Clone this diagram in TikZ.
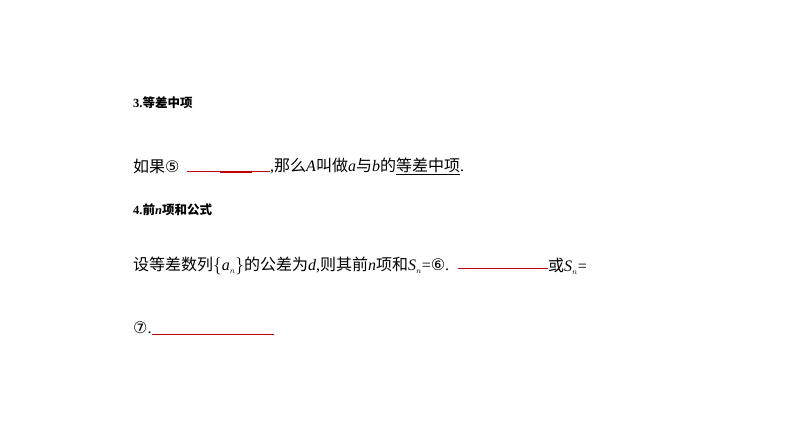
\documentclass[tikz,border=0pt]{standalone}
\usepackage{fontspec}
\setmainfont{Liberation Serif}
\newfontfamily\cjk{Noto Sans CJK SC}
\newfontfamily\circfont{DejaVu Sans}
\begin{document}
\begin{tikzpicture}[x=1pt,y=-1pt,
  txt/.style={anchor=west,inner sep=0pt,font=\fontsize{16}{18}\selectfont},
  hd/.style={anchor=west,inner sep=0pt,font=\fontsize{12.5}{15}\selectfont},
  blank/.style={draw=red!75!black,line width=0.6pt}]
\useasboundingbox[fill=white] (0,0) rectangle (794,447);
\node[hd] (h3) at (133,103) {\textbf{3.}{\cjk\bfseries 等差中项}};
\node[txt] (l1a) at (133,166) {{\cjk 如果}{\circfont ⑤}};
\coordinate (b1s) at (187,171); \coordinate (b1e) at (270,171);
\draw[blank] (b1s) -- (b1e);
\draw[blank,line width=1.5pt] (220,172) -- (252,172);
\node[txt] (l1b) at (270,166) {,{\cjk 那么}\textit{A}{\cjk 叫做}\textit{a}{\cjk 与}\textit{b}{\cjk 的}\underline{\cjk 等差中项}.};
\node[hd] (h4) at (133,210) {\textbf{4.}{\cjk\bfseries 前}\textbf{\textit{n}}{\cjk\bfseries 项和公式}};
\node[txt] (l2a) at (133,266) {{\cjk 设等差数列}$\{\textit{a}_{\scriptscriptstyle n}\}${\cjk 的公差为}\textit{d},{\cjk 则其前}\textit{n}{\cjk 项和}\textit{S}$_{\scriptscriptstyle n}$={\circfont ⑥}.};
\draw[blank] (458,268) -- (548,268);
\node[txt] (l2b) at (548,266) {{\cjk 或}\textit{S}$_{\scriptscriptstyle n}$=};
\node[txt] (l3) at (133,328) {{\circfont ⑦}.};
\draw[blank] (152,334) -- (274,334);
\end{tikzpicture}
\end{document}
